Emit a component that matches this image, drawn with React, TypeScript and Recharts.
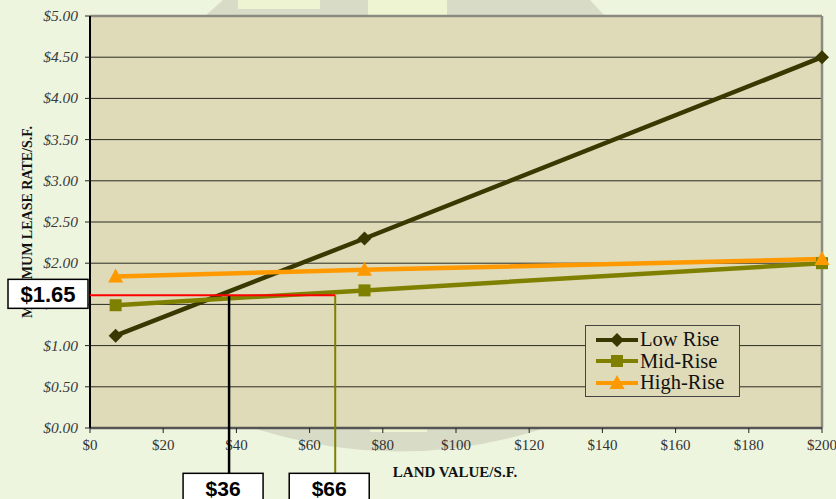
import { LineChart, Line, XAxis, YAxis, CartesianGrid, ReferenceLine, Legend } from 'recharts'

const landValues = [7, 75, 200]
const lowRise = [1.12, 2.3, 4.5]
const midRise = [1.49, 1.67, 2.0]
const highRise = [1.84, 1.92, 2.05]
const seriesOrder = ['low', 'mid', 'high']

const xTicks = [0, 20, 40, 60, 80, 100, 120, 140, 160, 180, 200]
const yTicks = [0, 0.5, 1, 1.5, 2, 2.5, 3, 3.5, 4, 4.5, 5]

// annotation: target lease rate and the land values it reads off
const targetRate = 1.61
const targetRateLabel = '$1.65'
const lowRiseLand = 38
const lowRiseLandLabel = '$36'
const midRiseLand = 67
const midRiseLandLabel = '$66'
const calloutFloor = -0.55

const serif = '"Liberation Serif", "Times New Roman", serif'
const sans = '"Liberation Sans", Arial, sans-serif'

const LOW = '#383800'
const MID = '#808000'
const HIGH = '#ff9900'

const W = 836
const H = 499

const data = landValues.map((x, i) => ({
  x,
  low: lowRise[i],
  mid: midRise[i],
  high: highRise[i],
}))

const Diamond = ({ cx, cy, fill }: any) => (
  <path d={`M${cx},${cy - 7} L${cx + 7},${cy} L${cx},${cy + 7} L${cx - 7},${cy} Z`} fill={fill} />
)
const Square = ({ cx, cy, fill }: any) => (
  <rect x={cx - 6} y={cy - 6} width={12} height={12} fill={fill} />
)
const Triangle = ({ cx, cy, fill }: any) => (
  <path d={`M${cx},${cy - 8} L${cx + 7.5},${cy + 6} L${cx - 7.5},${cy + 6} Z`} fill={fill} />
)

const markers: Record<string, any> = { low: Diamond, mid: Square, high: Triangle }

const renderLegend = (props: any) => {
  const items = [...props.payload].sort(
    (a: any, b: any) => seriesOrder.indexOf(a.dataKey) - seriesOrder.indexOf(b.dataKey)
  )
  return (
    <div
      style={{
        width: 155,
        height: 72,
        border: '1.5px solid #444',
        background: '#dfdbb8',
        padding: '3px 0 0 8px',
        boxSizing: 'border-box',
      }}
    >
      {items.map((p: any) => {
        const Mk = markers[p.dataKey]
        return (
          <div key={p.value} style={{ display: 'flex', alignItems: 'center', height: 21.5 }}>
            <svg width={46} height={16}>
              <line x1={2} y1={8} x2={44} y2={8} stroke={p.color} strokeWidth={4} />
              <Mk cx={23} cy={8} fill={p.color} />
            </svg>
            <span style={{ fontFamily: serif, fontSize: 20.5, color: '#111', lineHeight: '21px' }}>{p.value}</span>
          </div>
        )
      })}
    </div>
  )
}

const XTick = ({ x, y, payload }: any) => (
  <text x={x} y={y + 15} textAnchor="middle" fontFamily={serif} fontSize={15} fill="#333">
    ${payload.value}
  </text>
)

const YTick = ({ x, y, payload }: any) => (
  <text x={x} y={y + 5} textAnchor="end" fontFamily={serif} fontStyle="italic" fontSize={15.5} fill="#3a3a3a">
    ${payload.value.toFixed(2)}
  </text>
)

const Callout = ({ x1, y1, x2, y2, stroke, strokeWidth, text }: any) => (
  <g>
    <line x1={x1} y1={y1} x2={x2} y2={y2} stroke={stroke} strokeWidth={strokeWidth} />
    <rect x={x2 - 46} y={y2} width={80} height={32} fill="#fff" stroke="#000" strokeWidth={1.5} />
    <text x={x2 - 6} y={y2 + 23} textAnchor="middle" fontFamily={sans} fontWeight="bold" fontSize={21} fill="#000">
      {text}
    </text>
  </g>
)

const RateCallout = ({ x1, y1, x2, y2 }: any) => (
  <g>
    <line x1={x1} y1={y1} x2={x2} y2={y2} stroke="#ff0000" strokeWidth={2} />
    <rect x={x1 - 82} y={y1 - 16} width={80} height={29} fill="#fff" stroke="#000" strokeWidth={1.5} />
    <text x={x1 - 42} y={y1 + 7} textAnchor="middle" fontFamily={sans} fontWeight="bold" fontSize={22} fill="#000">
      {targetRateLabel}
    </text>
  </g>
)

const YLabel = ({ viewBox }: any) => {
  const cx = viewBox.x + 27
  const cy = viewBox.y + viewBox.height / 2
  return (
    <text
      x={cx}
      y={cy}
      transform={`rotate(-90 ${cx} ${cy})`}
      textAnchor="middle"
      dominantBaseline="central"
      fontFamily={serif}
      fontWeight="bold"
      fontSize={14}
      fill="#111"
    >
      MAXIMUM LEASE RATE/S.F.
    </text>
  )
}

const XLabel = ({ viewBox }: any) => (
  <text
    x={viewBox.x + 365}
    y={viewBox.y + 49}
    textAnchor="middle"
    fontFamily={serif}
    fontWeight="bold"
    fontSize={15}
    fill="#111"
  >
    LAND VALUE/S.F.
  </text>
)

const Backdrop = () => (
  <svg width={W} height={H} style={{ position: 'absolute', left: 0, top: 0 }}>
    <path d="M205,16 L223,0 L590,0 L605,16 Z" fill="#d8dcc6" />
    <rect x={238} y={0} width={82} height={9} fill="#eef3d2" />
    <rect x={368} y={0} width={79} height={16} fill="#eef3d2" />
    <path d="M253,428 Q400,475 545,428 Z" fill="#d8dcc6" />
    <rect x={370} y={428} width={57} height={4} fill="#eef3d2" />
  </svg>
)

export default function App() {
  return (
    <div style={{ position: 'absolute', left: 0, top: 0, width: W, height: H, background: '#eef5df', overflow: 'hidden' }}>
      <Backdrop />
      <div style={{ position: 'absolute', left: 0, top: 0 }}>
        <LineChart width={W} height={H} data={data} margin={{ top: 16, right: 14, left: 0, bottom: 0 }}>
          <CartesianGrid vertical={false} stroke="#2a2a20" strokeWidth={1} fill="#dfdbb8" fillOpacity={1} />
          <XAxis
            dataKey="x"
            type="number"
            domain={[0, 200]}
            ticks={xTicks}
            height={71}
            tickSize={5}
            axisLine={{ stroke: '#555', strokeWidth: 2.5 }}
            tickLine={{ stroke: '#222' }}
            tick={<XTick />}
            label={<XLabel />}
          />
          <YAxis
            type="number"
            domain={[0, 5]}
            ticks={yTicks}
            width={90}
            tickSize={5}
            tickMargin={7}
            axisLine={{ stroke: '#000', strokeWidth: 2 }}
            tickLine={{ stroke: '#222' }}
            tick={<YTick />}
            label={<YLabel />}
          />
          <ReferenceLine y={5} stroke="#8a8a80" strokeWidth={2.5} />
          <ReferenceLine x={200} stroke="#8a8a80" strokeWidth={2.5} />
          <Line dataKey="low" name="Low Rise" stroke={LOW} strokeWidth={4.5} dot={<Diamond fill={LOW} />} isAnimationActive={false} />
          <Line dataKey="mid" name="Mid-Rise" stroke={MID} strokeWidth={4.5} dot={<Square fill={MID} />} isAnimationActive={false} />
          <Line dataKey="high" name="High-Rise" stroke={HIGH} strokeWidth={4.5} dot={<Triangle fill={HIGH} />} isAnimationActive={false} />
          <Legend
            layout="vertical"
            verticalAlign="middle"
            align="center"
            content={renderLegend}
            wrapperStyle={{ left: 585, top: 325, width: 155, height: 72 }}
          />
        </LineChart>
      </div>
      {/* overlay with the same scales so the callouts sit above the axis text */}
      <div style={{ position: 'absolute', left: 0, top: 0 }}>
        <LineChart width={W} height={H} data={data} margin={{ top: 16, right: 14, left: 0, bottom: 0 }}>
          <XAxis dataKey="x" type="number" domain={[0, 200]} ticks={xTicks} height={71} tick={false} tickLine={false} axisLine={false} />
          <YAxis type="number" domain={[0, 5]} ticks={yTicks} width={90} tick={false} tickLine={false} axisLine={false} />
          <Line dataKey="low" stroke="none" dot={false} legendType="none" isAnimationActive={false} />
          <ReferenceLine
            segment={[{ x: lowRiseLand, y: targetRate }, { x: lowRiseLand, y: calloutFloor }]}
            ifOverflow="visible"
            shape={(p: any) => <Callout {...p} stroke="#000" strokeWidth={2.5} text={lowRiseLandLabel} />}
          />
          <ReferenceLine
            segment={[{ x: midRiseLand, y: targetRate }, { x: midRiseLand, y: calloutFloor }]}
            ifOverflow="visible"
            shape={(p: any) => <Callout {...p} stroke={MID} strokeWidth={2} text={midRiseLandLabel} />}
          />
          <ReferenceLine
            segment={[{ x: 0, y: targetRate }, { x: midRiseLand, y: targetRate }]}
            ifOverflow="visible"
            shape={(p: any) => <RateCallout {...p} />}
          />
        </LineChart>
      </div>
    </div>
  )
}
